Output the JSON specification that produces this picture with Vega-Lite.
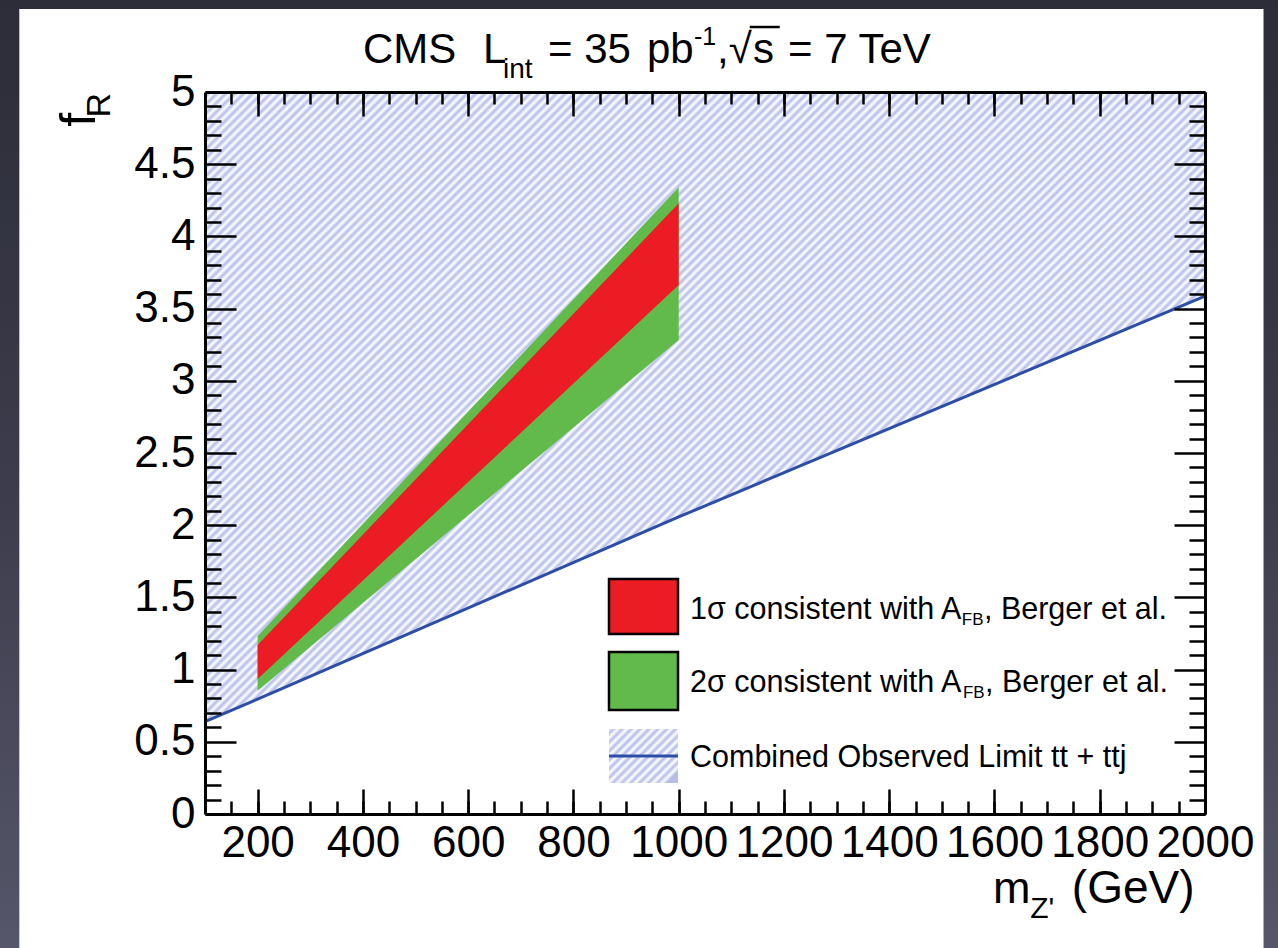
{
"$schema": "https://vega.github.io/schema/vega-lite/v6.json",
"width": 1000, "height": 722,
"autosize": {"type": "none"},
"padding": {"left": 205, "top": 92, "right": 73, "bottom": 134},
"background": "#2b2c37",
"config": {"view": {"stroke": null}},
"datasets": {
 "limit": [{"m":100,"f":0.639},{"m":200,"f":0.796},{"m":1000,"f":2.057},{"m":2000,"f":3.587}],
 "bands": [{"m":200,"g_lo":0.854,"r_lo":0.935,"r_hi":1.170,"g_hi":1.233},{"m":1000,"g_lo":3.283,"r_lo":3.663,"r_hi":4.229,"g_hi":4.341}]
},
"resolve": {"axis": {"x": "independent", "y": "independent"}},
"layer": [
 {"data":{"values":[{}]},
  "mark":{"type":"rect","fill":{"gradient":"linear","x1":0,"y1":0,"x2":0,"y2":1,"stops":[{"offset":0,"color":"#2a2b35"},{"offset":0.05,"color":"#2c2d38"},{"offset":0.5,"color":"#3c3c4c"},{"offset":0.92,"color":"#56566a"},{"offset":1,"color":"#56566a"}]}},
  "encoding":{"x":{"datum":-500,"type":"quantitative","scale":{"domain":[100,2000],"nice":false,"zero":false},"axis":null},"x2":{"datum":2300},
              "y":{"datum":6,"type":"quantitative","scale":{"domain":[0,5],"nice":false,"zero":false},"axis":null},"y2":{"datum":-1.5}}},
 {"data":{"values":[{}]},
  "mark":{"type":"rect","fill":"#ffffff"},
  "encoding":{"x":{"datum":-252.8,"type":"quantitative","axis":null},"x2":{"datum":2111.2},
              "y":{"datum":5.575,"type":"quantitative","axis":null},"y2":{"datum":-1.5}}},
 {"data":{"name":"limit"},
  "mark":{"type":"area","opacity":1,"fill":{"gradient":"linear","x1":0,"y1":0,"x2":1,"y2":0.63,"stops":[
{"offset":0,"color":"#fff"},{"offset":0.0032,"color":"#b5bde8"},{"offset":0.0064,"color":"#fff"},{"offset":0.0096,"color":"#b5bde8"},{"offset":0.0128,"color":"#fff"},{"offset":0.016,"color":"#b5bde8"},{"offset":0.0192,"color":"#fff"},{"offset":0.0224,"color":"#b5bde8"},{"offset":0.0256,"color":"#fff"},{"offset":0.0288,"color":"#b5bde8"},
{"offset":0.032,"color":"#fff"},{"offset":0.0352,"color":"#b5bde8"},{"offset":0.0384,"color":"#fff"},{"offset":0.0416,"color":"#b5bde8"},{"offset":0.0448,"color":"#fff"},{"offset":0.048,"color":"#b5bde8"},{"offset":0.0512,"color":"#fff"},{"offset":0.0544,"color":"#b5bde8"},{"offset":0.0576,"color":"#fff"},{"offset":0.0608,"color":"#b5bde8"},
{"offset":0.064,"color":"#fff"},{"offset":0.0672,"color":"#b5bde8"},{"offset":0.0704,"color":"#fff"},{"offset":0.0736,"color":"#b5bde8"},{"offset":0.0768,"color":"#fff"},{"offset":0.08,"color":"#b5bde8"},{"offset":0.0832,"color":"#fff"},{"offset":0.0864,"color":"#b5bde8"},{"offset":0.0896,"color":"#fff"},{"offset":0.0928,"color":"#b5bde8"},
{"offset":0.096,"color":"#fff"},{"offset":0.0992,"color":"#b5bde8"},{"offset":0.1024,"color":"#fff"},{"offset":0.1056,"color":"#b5bde8"},{"offset":0.1088,"color":"#fff"},{"offset":0.112,"color":"#b5bde8"},{"offset":0.1152,"color":"#fff"},{"offset":0.1184,"color":"#b5bde8"},{"offset":0.1216,"color":"#fff"},{"offset":0.1248,"color":"#b5bde8"},
{"offset":0.128,"color":"#fff"},{"offset":0.1312,"color":"#b5bde8"},{"offset":0.1344,"color":"#fff"},{"offset":0.1376,"color":"#b5bde8"},{"offset":0.1408,"color":"#fff"},{"offset":0.144,"color":"#b5bde8"},{"offset":0.1472,"color":"#fff"},{"offset":0.1504,"color":"#b5bde8"},{"offset":0.1536,"color":"#fff"},{"offset":0.1568,"color":"#b5bde8"},
{"offset":0.16,"color":"#fff"},{"offset":0.1632,"color":"#b5bde8"},{"offset":0.1664,"color":"#fff"},{"offset":0.1696,"color":"#b5bde8"},{"offset":0.1728,"color":"#fff"},{"offset":0.176,"color":"#b5bde8"},{"offset":0.1792,"color":"#fff"},{"offset":0.1824,"color":"#b5bde8"},{"offset":0.1856,"color":"#fff"},{"offset":0.1888,"color":"#b5bde8"},
{"offset":0.192,"color":"#fff"},{"offset":0.1952,"color":"#b5bde8"},{"offset":0.1984,"color":"#fff"},{"offset":0.2016,"color":"#b5bde8"},{"offset":0.2048,"color":"#fff"},{"offset":0.208,"color":"#b5bde8"},{"offset":0.2112,"color":"#fff"},{"offset":0.2144,"color":"#b5bde8"},{"offset":0.2176,"color":"#fff"},{"offset":0.2208,"color":"#b5bde8"},
{"offset":0.224,"color":"#fff"},{"offset":0.2272,"color":"#b5bde8"},{"offset":0.2304,"color":"#fff"},{"offset":0.2336,"color":"#b5bde8"},{"offset":0.2368,"color":"#fff"},{"offset":0.24,"color":"#b5bde8"},{"offset":0.2432,"color":"#fff"},{"offset":0.2464,"color":"#b5bde8"},{"offset":0.2496,"color":"#fff"},{"offset":0.2528,"color":"#b5bde8"},
{"offset":0.256,"color":"#fff"},{"offset":0.2592,"color":"#b5bde8"},{"offset":0.2624,"color":"#fff"},{"offset":0.2656,"color":"#b5bde8"},{"offset":0.2688,"color":"#fff"},{"offset":0.272,"color":"#b5bde8"},{"offset":0.2752,"color":"#fff"},{"offset":0.2784,"color":"#b5bde8"},{"offset":0.2816,"color":"#fff"},{"offset":0.2848,"color":"#b5bde8"},
{"offset":0.288,"color":"#fff"},{"offset":0.2912,"color":"#b5bde8"},{"offset":0.2944,"color":"#fff"},{"offset":0.2976,"color":"#b5bde8"},{"offset":0.3008,"color":"#fff"},{"offset":0.304,"color":"#b5bde8"},{"offset":0.3072,"color":"#fff"},{"offset":0.3104,"color":"#b5bde8"},{"offset":0.3136,"color":"#fff"},{"offset":0.3168,"color":"#b5bde8"},
{"offset":0.32,"color":"#fff"},{"offset":0.3232,"color":"#b5bde8"},{"offset":0.3264,"color":"#fff"},{"offset":0.3296,"color":"#b5bde8"},{"offset":0.3328,"color":"#fff"},{"offset":0.336,"color":"#b5bde8"},{"offset":0.3392,"color":"#fff"},{"offset":0.3424,"color":"#b5bde8"},{"offset":0.3456,"color":"#fff"},{"offset":0.3488,"color":"#b5bde8"},
{"offset":0.352,"color":"#fff"},{"offset":0.3552,"color":"#b5bde8"},{"offset":0.3584,"color":"#fff"},{"offset":0.3616,"color":"#b5bde8"},{"offset":0.3648,"color":"#fff"},{"offset":0.368,"color":"#b5bde8"},{"offset":0.3712,"color":"#fff"},{"offset":0.3744,"color":"#b5bde8"},{"offset":0.3776,"color":"#fff"},{"offset":0.3808,"color":"#b5bde8"},
{"offset":0.384,"color":"#fff"},{"offset":0.3872,"color":"#b5bde8"},{"offset":0.3904,"color":"#fff"},{"offset":0.3936,"color":"#b5bde8"},{"offset":0.3968,"color":"#fff"},{"offset":0.4,"color":"#b5bde8"},{"offset":0.4032,"color":"#fff"},{"offset":0.4064,"color":"#b5bde8"},{"offset":0.4096,"color":"#fff"},{"offset":0.4128,"color":"#b5bde8"},
{"offset":0.416,"color":"#fff"},{"offset":0.4192,"color":"#b5bde8"},{"offset":0.4224,"color":"#fff"},{"offset":0.4256,"color":"#b5bde8"},{"offset":0.4288,"color":"#fff"},{"offset":0.432,"color":"#b5bde8"},{"offset":0.4352,"color":"#fff"},{"offset":0.4384,"color":"#b5bde8"},{"offset":0.4416,"color":"#fff"},{"offset":0.4448,"color":"#b5bde8"},
{"offset":0.448,"color":"#fff"},{"offset":0.4512,"color":"#b5bde8"},{"offset":0.4544,"color":"#fff"},{"offset":0.4576,"color":"#b5bde8"},{"offset":0.4608,"color":"#fff"},{"offset":0.464,"color":"#b5bde8"},{"offset":0.4672,"color":"#fff"},{"offset":0.4704,"color":"#b5bde8"},{"offset":0.4736,"color":"#fff"},{"offset":0.4768,"color":"#b5bde8"},
{"offset":0.48,"color":"#fff"},{"offset":0.4832,"color":"#b5bde8"},{"offset":0.4864,"color":"#fff"},{"offset":0.4896,"color":"#b5bde8"},{"offset":0.4928,"color":"#fff"},{"offset":0.496,"color":"#b5bde8"},{"offset":0.4992,"color":"#fff"},{"offset":0.5024,"color":"#b5bde8"},{"offset":0.5056,"color":"#fff"},{"offset":0.5088,"color":"#b5bde8"},
{"offset":0.512,"color":"#fff"},{"offset":0.5152,"color":"#b5bde8"},{"offset":0.5184,"color":"#fff"},{"offset":0.5216,"color":"#b5bde8"},{"offset":0.5248,"color":"#fff"},{"offset":0.528,"color":"#b5bde8"},{"offset":0.5312,"color":"#fff"},{"offset":0.5344,"color":"#b5bde8"},{"offset":0.5376,"color":"#fff"},{"offset":0.5408,"color":"#b5bde8"},
{"offset":0.544,"color":"#fff"},{"offset":0.5472,"color":"#b5bde8"},{"offset":0.5504,"color":"#fff"},{"offset":0.5536,"color":"#b5bde8"},{"offset":0.5568,"color":"#fff"},{"offset":0.56,"color":"#b5bde8"},{"offset":0.5632,"color":"#fff"},{"offset":0.5664,"color":"#b5bde8"},{"offset":0.5696,"color":"#fff"},{"offset":0.5728,"color":"#b5bde8"},
{"offset":0.576,"color":"#fff"},{"offset":0.5792,"color":"#b5bde8"},{"offset":0.5824,"color":"#fff"},{"offset":0.5856,"color":"#b5bde8"},{"offset":0.5888,"color":"#fff"},{"offset":0.592,"color":"#b5bde8"},{"offset":0.5952,"color":"#fff"},{"offset":0.5984,"color":"#b5bde8"},{"offset":0.6016,"color":"#fff"},{"offset":0.6048,"color":"#b5bde8"},
{"offset":0.608,"color":"#fff"},{"offset":0.6112,"color":"#b5bde8"},{"offset":0.6144,"color":"#fff"},{"offset":0.6176,"color":"#b5bde8"},{"offset":0.6208,"color":"#fff"},{"offset":0.624,"color":"#b5bde8"},{"offset":0.6272,"color":"#fff"},{"offset":0.6304,"color":"#b5bde8"},{"offset":0.6336,"color":"#fff"},{"offset":0.6368,"color":"#b5bde8"},
{"offset":0.64,"color":"#fff"},{"offset":0.6432,"color":"#b5bde8"},{"offset":0.6464,"color":"#fff"},{"offset":0.6496,"color":"#b5bde8"},{"offset":0.6528,"color":"#fff"},{"offset":0.656,"color":"#b5bde8"},{"offset":0.6592,"color":"#fff"},{"offset":0.6624,"color":"#b5bde8"},{"offset":0.6656,"color":"#fff"},{"offset":0.6688,"color":"#b5bde8"},
{"offset":0.672,"color":"#fff"},{"offset":0.6752,"color":"#b5bde8"},{"offset":0.6784,"color":"#fff"},{"offset":0.6816,"color":"#b5bde8"},{"offset":0.6848,"color":"#fff"},{"offset":0.688,"color":"#b5bde8"},{"offset":0.6912,"color":"#fff"},{"offset":0.6944,"color":"#b5bde8"},{"offset":0.6976,"color":"#fff"},{"offset":0.7008,"color":"#b5bde8"},
{"offset":0.704,"color":"#fff"},{"offset":0.7072,"color":"#b5bde8"},{"offset":0.7104,"color":"#fff"},{"offset":0.7136,"color":"#b5bde8"},{"offset":0.7168,"color":"#fff"},{"offset":0.72,"color":"#b5bde8"},{"offset":0.7232,"color":"#fff"},{"offset":0.7264,"color":"#b5bde8"},{"offset":0.7296,"color":"#fff"},{"offset":0.7328,"color":"#b5bde8"},
{"offset":0.736,"color":"#fff"},{"offset":0.7392,"color":"#b5bde8"},{"offset":0.7424,"color":"#fff"},{"offset":0.7456,"color":"#b5bde8"},{"offset":0.7488,"color":"#fff"},{"offset":0.752,"color":"#b5bde8"},{"offset":0.7552,"color":"#fff"},{"offset":0.7584,"color":"#b5bde8"},{"offset":0.7616,"color":"#fff"},{"offset":0.7648,"color":"#b5bde8"},
{"offset":0.768,"color":"#fff"},{"offset":0.7712,"color":"#b5bde8"},{"offset":0.7744,"color":"#fff"},{"offset":0.7776,"color":"#b5bde8"},{"offset":0.7808,"color":"#fff"},{"offset":0.784,"color":"#b5bde8"},{"offset":0.7872,"color":"#fff"},{"offset":0.7904,"color":"#b5bde8"},{"offset":0.7936,"color":"#fff"},{"offset":0.7968,"color":"#b5bde8"},
{"offset":0.8,"color":"#fff"},{"offset":0.8032,"color":"#b5bde8"},{"offset":0.8064,"color":"#fff"},{"offset":0.8096,"color":"#b5bde8"},{"offset":0.8128,"color":"#fff"},{"offset":0.816,"color":"#b5bde8"},{"offset":0.8192,"color":"#fff"},{"offset":0.8224,"color":"#b5bde8"},{"offset":0.8256,"color":"#fff"},{"offset":0.8288,"color":"#b5bde8"},
{"offset":0.832,"color":"#fff"},{"offset":0.8352,"color":"#b5bde8"},{"offset":0.8384,"color":"#fff"},{"offset":0.8416,"color":"#b5bde8"},{"offset":0.8448,"color":"#fff"},{"offset":0.848,"color":"#b5bde8"},{"offset":0.8512,"color":"#fff"},{"offset":0.8544,"color":"#b5bde8"},{"offset":0.8576,"color":"#fff"},{"offset":0.8608,"color":"#b5bde8"},
{"offset":0.864,"color":"#fff"},{"offset":0.8672,"color":"#b5bde8"},{"offset":0.8704,"color":"#fff"},{"offset":0.8736,"color":"#b5bde8"},{"offset":0.8768,"color":"#fff"},{"offset":0.88,"color":"#b5bde8"},{"offset":0.8832,"color":"#fff"},{"offset":0.8864,"color":"#b5bde8"},{"offset":0.8896,"color":"#fff"},{"offset":0.8928,"color":"#b5bde8"},
{"offset":0.896,"color":"#fff"},{"offset":0.8992,"color":"#b5bde8"},{"offset":0.9024,"color":"#fff"},{"offset":0.9056,"color":"#b5bde8"},{"offset":0.9088,"color":"#fff"},{"offset":0.912,"color":"#b5bde8"},{"offset":0.9152,"color":"#fff"},{"offset":0.9184,"color":"#b5bde8"},{"offset":0.9216,"color":"#fff"},{"offset":0.9248,"color":"#b5bde8"},
{"offset":0.928,"color":"#fff"},{"offset":0.9312,"color":"#b5bde8"},{"offset":0.9344,"color":"#fff"},{"offset":0.9376,"color":"#b5bde8"},{"offset":0.9408,"color":"#fff"},{"offset":0.944,"color":"#b5bde8"},{"offset":0.9472,"color":"#fff"},{"offset":0.9504,"color":"#b5bde8"},{"offset":0.9536,"color":"#fff"},{"offset":0.9568,"color":"#b5bde8"},
{"offset":0.96,"color":"#fff"},{"offset":0.9632,"color":"#b5bde8"},{"offset":0.9664,"color":"#fff"},{"offset":0.9696,"color":"#b5bde8"},{"offset":0.9728,"color":"#fff"},{"offset":0.976,"color":"#b5bde8"},{"offset":0.9792,"color":"#fff"},{"offset":0.9824,"color":"#b5bde8"},{"offset":0.9856,"color":"#fff"},{"offset":0.9888,"color":"#b5bde8"},
{"offset":0.992,"color":"#fff"},{"offset":0.9952,"color":"#b5bde8"},{"offset":0.9984,"color":"#fff"}]}},
  "encoding":{
   "x":{"field":"m","type":"quantitative","scale":{"domain":[100,2000],"nice":false,"zero":false},
        "axis":{"orient":"bottom","values":[200,400,600,800,1000,1200,1400,1600,1800,2000],"format":"d","title":null,"tickSize":-25,"tickWidth":2.5,"tickColor":"#000","domain":true,"domainColor":"#000","domainWidth":3,"labelFont":"Liberation Sans","labelFontSize":44,"labelColor":"#000","labelPadding":32,"labelFlush":false,"labelOverlap":false,"labelBound":false,"grid":false,"zindex":1}},
   "y":{"field":"f","type":"quantitative","scale":{"domain":[0,5],"nice":false,"zero":false},
        "axis":{"orient":"left","values":[0,0.5,1,1.5,2,2.5,3,3.5,4,4.5,5],"format":"~g","title":null,"tickSize":-31,"tickWidth":2.5,"tickColor":"#000","domain":true,"domainColor":"#000","domainWidth":3,"labelFont":"Liberation Sans","labelFontSize":44,"labelColor":"#000","labelPadding":41,"labelFlush":false,"labelOverlap":false,"labelBound":false,"grid":false,"zindex":1}},
   "y2":{"datum":5}}},
 {"data":{"name":"bands"},
  "mark":{"type":"area","opacity":1,"fill":"#62ba4a"},
  "encoding":{
   "x":{"field":"m","type":"quantitative","scale":{"domain":[100,2000],"nice":false,"zero":false},
        "axis":{"orient":"bottom","values":[150,200,250,300,350,400,450,500,550,600,650,700,750,800,850,900,950,1000,1050,1100,1150,1200,1250,1300,1350,1400,1450,1500,1550,1600,1650,1700,1750,1800,1850,1900,1950],"title":null,"tickSize":-13,"tickWidth":2.5,"tickColor":"#000","domain":false,"labels":false,"grid":false,"zindex":1}},
   "y":{"field":"g_lo","type":"quantitative","scale":{"domain":[0,5],"nice":false,"zero":false},
        "axis":{"orient":"left","values":[0.1,0.2,0.3,0.4,0.6,0.7,0.8,0.9,1.1,1.2,1.3,1.4,1.6,1.7,1.8,1.9,2.1,2.2,2.3,2.4,2.6,2.7,2.8,2.9,3.1,3.2,3.3,3.4,3.6,3.7,3.8,3.9,4.1,4.2,4.3,4.4,4.6,4.7,4.8,4.9],"title":null,"tickSize":-16,"tickWidth":2.5,"tickColor":"#000","domain":false,"labels":false,"grid":false,"zindex":1}},
   "y2":{"field":"g_hi"}}},
 {"data":{"name":"bands"},
  "mark":{"type":"area","opacity":1,"fill":"#ec1c24"},
  "encoding":{
   "x":{"field":"m","type":"quantitative","scale":{"domain":[100,2000],"nice":false,"zero":false},
        "axis":{"orient":"top","values":[200,400,600,800,1000,1200,1400,1600,1800,2000],"title":null,"tickSize":-24,"tickWidth":2.5,"tickColor":"#000","domain":true,"domainColor":"#000","domainWidth":3,"labels":false,"grid":false,"zindex":1}},
   "y":{"field":"r_lo","type":"quantitative","scale":{"domain":[0,5],"nice":false,"zero":false},
        "axis":{"orient":"right","values":[0,0.5,1,1.5,2,2.5,3,3.5,4,4.5,5],"title":null,"tickSize":-31,"tickWidth":2.5,"tickColor":"#000","domain":true,"domainColor":"#000","domainWidth":3,"labels":false,"grid":false,"zindex":1}},
   "y2":{"field":"r_hi"}}},
 {"data":{"name":"limit"},
  "mark":{"type":"line","color":"#2d4ea6","strokeWidth":3},
  "encoding":{
   "x":{"field":"m","type":"quantitative","scale":{"domain":[100,2000],"nice":false,"zero":false},
        "axis":{"orient":"top","values":[150,200,250,300,350,400,450,500,550,600,650,700,750,800,850,900,950,1000,1050,1100,1150,1200,1250,1300,1350,1400,1450,1500,1550,1600,1650,1700,1750,1800,1850,1900,1950],"title":null,"tickSize":-12,"tickWidth":2.5,"tickColor":"#000","domain":false,"labels":false,"grid":false,"zindex":1}},
   "y":{"field":"f","type":"quantitative","scale":{"domain":[0,5],"nice":false,"zero":false},
        "axis":{"orient":"right","values":[0.1,0.2,0.3,0.4,0.6,0.7,0.8,0.9,1.1,1.2,1.3,1.4,1.6,1.7,1.8,1.9,2.1,2.2,2.3,2.4,2.6,2.7,2.8,2.9,3.1,3.2,3.3,3.4,3.6,3.7,3.8,3.9,4.1,4.2,4.3,4.4,4.6,4.7,4.8,4.9],"title":null,"tickSize":-16,"tickWidth":2.5,"tickColor":"#000","domain":false,"labels":false,"grid":false,"zindex":1}}}},
 {"data":{"values":[{"label":"1σ consistent with A_FB, Berger et al."}]},
  "mark":{"type":"rect","fill":"#ec1c24","stroke":"#000","strokeWidth":2.5},
  "encoding":{"x":{"datum":867.6,"type":"quantitative","axis":null},"x2":{"datum":998.7},"y":{"datum":1.627,"type":"quantitative","axis":null},"y2":{"datum":1.247}}},
 {"data":{"values":[{"label":"2σ consistent with A_FB, Berger et al."}]},
  "mark":{"type":"rect","fill":"#62ba4a","stroke":"#000","strokeWidth":2.5},
  "encoding":{"x":{"datum":867.6,"type":"quantitative","axis":null},"x2":{"datum":998.7},"y":{"datum":1.122,"type":"quantitative","axis":null},"y2":{"datum":0.72}}},
 {"data":{"values":[{"label":"Combined Observed Limit tt + ttj"}]},
  "mark":{"type":"rect","fill":{"gradient":"linear","x1":0,"y1":0,"x2":1,"y2":0.7826,"stops":[
{"offset":0,"color":"#fff"},{"offset":0.04,"color":"#b5bde8"},{"offset":0.08,"color":"#fff"},{"offset":0.12,"color":"#b5bde8"},{"offset":0.16,"color":"#fff"},{"offset":0.2,"color":"#b5bde8"},{"offset":0.24,"color":"#fff"},{"offset":0.28,"color":"#b5bde8"},{"offset":0.32,"color":"#fff"},{"offset":0.36,"color":"#b5bde8"},{"offset":0.4,"color":"#fff"},{"offset":0.44,"color":"#b5bde8"},{"offset":0.48,"color":"#fff"},{"offset":0.52,"color":"#b5bde8"},{"offset":0.56,"color":"#fff"},{"offset":0.6,"color":"#b5bde8"},{"offset":0.64,"color":"#fff"},{"offset":0.68,"color":"#b5bde8"},{"offset":0.72,"color":"#fff"},{"offset":0.76,"color":"#b5bde8"},{"offset":0.8,"color":"#fff"},{"offset":0.84,"color":"#b5bde8"},{"offset":0.88,"color":"#fff"},{"offset":0.92,"color":"#b5bde8"},{"offset":0.96,"color":"#fff"},{"offset":1,"color":"#b5bde8"}]}},
  "encoding":{"x":{"datum":867.6,"type":"quantitative","axis":null},"x2":{"datum":998.7},"y":{"datum":0.589,"type":"quantitative","axis":null},"y2":{"datum":0.215}}},
 {"data":{"values":[{"label":"Combined Observed Limit tt + ttj"}]},
  "mark":{"type":"rule","color":"#2d4ea6","strokeWidth":3},
  "encoding":{"x":{"datum":867.6,"type":"quantitative","axis":null},"x2":{"datum":998.7},"y":{"datum":0.402,"type":"quantitative","axis":null}}},
 {"data":{"values":[{"label":"1σ consistent with A"}]},
  "mark":{"type":"text","align":"left","baseline":"alphabetic","font":"Liberation Sans","fontSize":30.5,"color":"#000"},
  "encoding":{"x":{"datum":1021.5,"type":"quantitative","axis":null},"y":{"datum":1.35,"type":"quantitative","axis":null},"text":{"field":"label"}}},
 {"data":{"values":[{"label":"FB"}]},
  "mark":{"type":"text","align":"left","baseline":"alphabetic","font":"Liberation Sans","fontSize":17,"color":"#000"},
  "encoding":{"x":{"datum":1538,"type":"quantitative","axis":null},"y":{"datum":1.309,"type":"quantitative","axis":null},"text":{"field":"label"}}},
 {"data":{"values":[{"label":", Berger et al."}]},
  "mark":{"type":"text","align":"left","baseline":"alphabetic","font":"Liberation Sans","fontSize":30.5,"color":"#000"},
  "encoding":{"x":{"datum":1580,"type":"quantitative","axis":null},"y":{"datum":1.35,"type":"quantitative","axis":null},"text":{"field":"label"}}},
 {"data":{"values":[{"label":"2σ consistent with A"}]},
  "mark":{"type":"text","align":"left","baseline":"alphabetic","font":"Liberation Sans","fontSize":30.5,"color":"#000"},
  "encoding":{"x":{"datum":1021.5,"type":"quantitative","axis":null},"y":{"datum":0.845,"type":"quantitative","axis":null},"text":{"field":"label"}}},
 {"data":{"values":[{"label":"FB"}]},
  "mark":{"type":"text","align":"left","baseline":"alphabetic","font":"Liberation Sans","fontSize":17,"color":"#000"},
  "encoding":{"x":{"datum":1540,"type":"quantitative","axis":null},"y":{"datum":0.803,"type":"quantitative","axis":null},"text":{"field":"label"}}},
 {"data":{"values":[{"label":", Berger et al."}]},
  "mark":{"type":"text","align":"left","baseline":"alphabetic","font":"Liberation Sans","fontSize":30.5,"color":"#000"},
  "encoding":{"x":{"datum":1582,"type":"quantitative","axis":null},"y":{"datum":0.845,"type":"quantitative","axis":null},"text":{"field":"label"}}},
 {"data":{"values":[{"label":"Combined Observed Limit tt + ttj"}]},
  "mark":{"type":"text","align":"left","baseline":"alphabetic","font":"Liberation Sans","fontSize":30.5,"color":"#000"},
  "encoding":{"x":{"datum":1021.5,"type":"quantitative","axis":null},"y":{"datum":0.328,"type":"quantitative","axis":null},"text":{"field":"label"}}},
 {"data":{"values":[{"label":"CMS"}]},
  "mark":{"type":"text","align":"left","baseline":"alphabetic","font":"Liberation Sans","fontSize":42,"color":"#000"},
  "encoding":{"x":{"datum":400,"type":"quantitative","axis":null},"y":{"datum":5.203,"type":"quantitative","axis":null},"text":{"field":"label"}}},
 {"data":{"values":[{"label":"L"}]},
  "mark":{"type":"text","align":"left","baseline":"alphabetic","font":"Liberation Sans","fontSize":42,"color":"#000"},
  "encoding":{"x":{"datum":628.2,"type":"quantitative","axis":null},"y":{"datum":5.203,"type":"quantitative","axis":null},"text":{"field":"label"}}},
 {"data":{"values":[{"label":"int"}]},
  "mark":{"type":"text","align":"left","baseline":"alphabetic","font":"Liberation Sans","fontSize":28,"color":"#000"},
  "encoding":{"x":{"datum":666.2,"type":"quantitative","axis":null},"y":{"datum":5.1,"type":"quantitative","axis":null},"text":{"field":"label"}}},
 {"data":{"values":[{"label":"= 35"}]},
  "mark":{"type":"text","align":"left","baseline":"alphabetic","font":"Liberation Sans","fontSize":42,"color":"#000"},
  "encoding":{"x":{"datum":751.7,"type":"quantitative","axis":null},"y":{"datum":5.203,"type":"quantitative","axis":null},"text":{"field":"label"}}},
 {"data":{"values":[{"label":"pb"}]},
  "mark":{"type":"text","align":"left","baseline":"alphabetic","font":"Liberation Sans","fontSize":42,"color":"#000"},
  "encoding":{"x":{"datum":939.8,"type":"quantitative","axis":null},"y":{"datum":5.203,"type":"quantitative","axis":null},"text":{"field":"label"}}},
 {"data":{"values":[{"label":"-1"}]},
  "mark":{"type":"text","align":"left","baseline":"alphabetic","font":"Liberation Sans","fontSize":25,"color":"#000"},
  "encoding":{"x":{"datum":1029,"type":"quantitative","axis":null},"y":{"datum":5.325,"type":"quantitative","axis":null},"text":{"field":"label"}}},
 {"data":{"values":[{"label":",√"}]},
  "mark":{"type":"text","align":"left","baseline":"alphabetic","font":"Liberation Sans","fontSize":42,"color":"#000"},
  "encoding":{"x":{"datum":1073,"type":"quantitative","axis":null},"y":{"datum":5.203,"type":"quantitative","axis":null},"text":{"field":"label"}}},
 {"data":{"values":[{"label":"s"}]},
  "mark":{"type":"text","align":"left","baseline":"alphabetic","font":"Liberation Sans","fontSize":42,"color":"#000"},
  "encoding":{"x":{"datum":1141,"type":"quantitative","axis":null},"y":{"datum":5.203,"type":"quantitative","axis":null},"text":{"field":"label"}}},
 {"data":{"values":[{}]},
  "mark":{"type":"rule","color":"#000","strokeWidth":2.5},
  "encoding":{"x":{"datum":1135,"type":"quantitative","axis":null},"x2":{"datum":1192},"y":{"datum":5.45,"type":"quantitative","axis":null}}},
 {"data":{"values":[{"label":"= 7 TeV"}]},
  "mark":{"type":"text","align":"left","baseline":"alphabetic","font":"Liberation Sans","fontSize":42,"color":"#000"},
  "encoding":{"x":{"datum":1207.7,"type":"quantitative","axis":null},"y":{"datum":5.203,"type":"quantitative","axis":null},"text":{"field":"label"}}},
 {"data":{"values":[{"label":"m"}]},
  "mark":{"type":"text","align":"left","baseline":"alphabetic","font":"Liberation Sans","fontSize":45,"color":"#000"},
  "encoding":{"x":{"datum":1597,"type":"quantitative","axis":null},"y":{"datum":-0.616,"type":"quantitative","axis":null},"text":{"field":"label"}}},
 {"data":{"values":[{"label":"Z'"}]},
  "mark":{"type":"text","align":"left","baseline":"alphabetic","font":"Liberation Sans","fontSize":30,"color":"#000"},
  "encoding":{"x":{"datum":1668,"type":"quantitative","axis":null},"y":{"datum":-0.72,"type":"quantitative","axis":null},"text":{"field":"label"}}},
 {"data":{"values":[{"label":"(GeV)"}]},
  "mark":{"type":"text","align":"left","baseline":"alphabetic","font":"Liberation Sans","fontSize":46,"color":"#000"},
  "encoding":{"x":{"datum":1747,"type":"quantitative","axis":null},"y":{"datum":-0.616,"type":"quantitative","axis":null},"text":{"field":"label"}}},
 {"data":{"values":[{"label":"f"}]},
  "mark":{"type":"text","align":"right","baseline":"alphabetic","angle":270,"font":"Liberation Sans","fontSize":50,"color":"#000"},
  "encoding":{"x":{"datum":-109,"type":"quantitative","axis":null},"y":{"datum":4.855,"type":"quantitative","axis":null},"text":{"field":"label"}}},
 {"data":{"values":[{"label":"R"}]},
  "mark":{"type":"text","align":"right","baseline":"alphabetic","angle":270,"font":"Liberation Sans","fontSize":34,"color":"#000"},
  "encoding":{"x":{"datum":-80.5,"type":"quantitative","axis":null},"y":{"datum":4.993,"type":"quantitative","axis":null},"text":{"field":"label"}}}
]
}
